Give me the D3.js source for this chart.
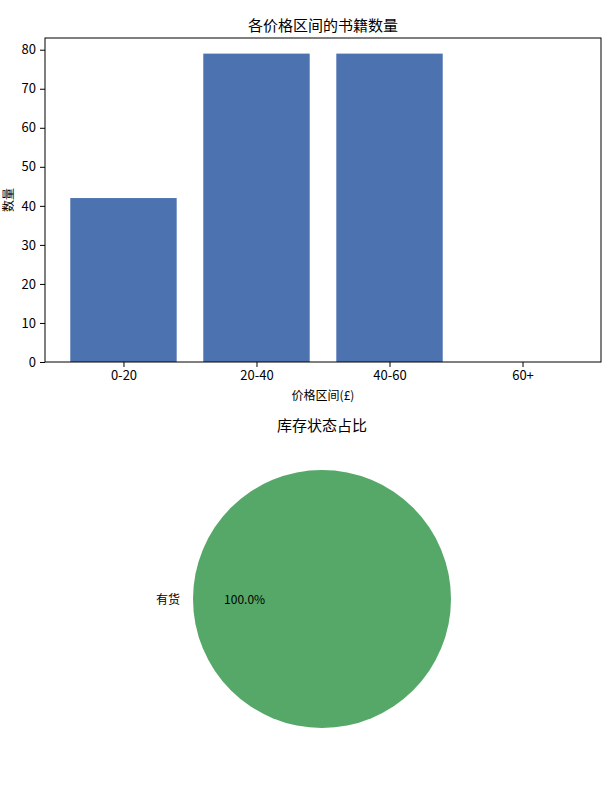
<!DOCTYPE html>
<html>
<head>
    <meta charset="utf-8">
    <script src="https://d3js.org/d3.v7.min.js" charset="utf-8"></script>
    <style>
        body { margin: 0; background: white; }
        text { font-family: "Noto Sans CJK SC", "Noto Sans", sans-serif; fill: black; }
    </style>
</head>
<body>
   <script>
        // bar chart data
        var priceRanges = ["0-20", "20-40", "40-60", "60+"];
        var bookCounts = [42, 79, 79, 0];
        var yTicks = [0, 10, 20, 30, 40, 50, 60, 70, 80];
        // pie data
        var stockLabels = ["有货"];
        var stockValues = [1];

        var svg = d3.select("body")
            .append("svg")
            .attr("width", 611)
            .attr("height", 787)
            .style("background", "white");

        // ---- bar chart ----
        var plotLeft = 45, plotRight = 601, plotTop = 38, plotBottom = 362;
        var x = d3.scaleLinear().domain([-0.59, 3.59]).range([plotLeft, plotRight]);
        var y = d3.scaleLinear().domain([0, 83]).range([plotBottom, plotTop]);

        svg.append("g")
            .selectAll("rect")
            .data(bookCounts)
            .enter()
            .append("rect")
            .attr("x", function (d, i) { return x(i - 0.4); })
            .attr("width", function () { return x(0.4) - x(-0.4); })
            .attr("y", function (d) { return y(d); })
            .attr("height", function (d) { return y(0) - y(d); })
            .style("fill", "#4c72b0");

        var yAxis = svg.append("g")
            .attr("transform", "translate(" + plotLeft + ",0)")
            .call(d3.axisLeft(y).tickValues(yTicks).tickSize(5).tickPadding(4));
        yAxis.select(".domain").remove();
        yAxis.selectAll("text").style("font-size", "13px")
            .style("font-family", "'Noto Sans CJK SC'");

        var xAxis = svg.append("g")
            .attr("transform", "translate(0," + plotBottom + ")")
            .call(d3.axisBottom(x).tickValues(d3.range(priceRanges.length))
                .tickFormat(function (i) { return priceRanges[i]; })
                .tickSize(5).tickPadding(4));
        xAxis.select(".domain").remove();
        xAxis.selectAll("text").style("font-size", "13px")
            .style("font-family", "'Noto Sans CJK SC'");

        svg.append("rect")
            .attr("x", plotLeft).attr("y", plotTop)
            .attr("width", plotRight - plotLeft).attr("height", plotBottom - plotTop)
            .style("fill", "none").style("stroke", "black").style("stroke-width", 1);

        svg.append("text")
            .attr("x", (plotLeft + plotRight) / 2).attr("y", 31)
            .attr("text-anchor", "middle")
            .style("font-size", "15px")
            .text("各价格区间的书籍数量");

        svg.append("text")
            .attr("x", (plotLeft + plotRight) / 2).attr("y", 400)
            .attr("text-anchor", "middle")
            .style("font-size", "12px")
            .text("价格区间(£)");

        svg.append("text")
            .attr("transform", "translate(13," + (plotTop + plotBottom) / 2 + ") rotate(-90)")
            .attr("text-anchor", "middle")
            .style("font-size", "12px")
            .text("数量");

        // ---- pie chart ----
        var cx = 322, cy = 599, radius = 129;
        var pie = d3.pie().sort(null).startAngle(-Math.PI / 2).endAngle(1.5 * Math.PI);
        var arcs = pie(stockValues);
        var arc = d3.arc().innerRadius(0).outerRadius(radius);
        var total = d3.sum(stockValues);

        var g = svg.append("g").attr("transform", "translate(" + cx + "," + cy + ")");
        g.selectAll("path")
            .data(arcs)
            .enter()
            .append("path")
            .attr("d", arc)
            .style("fill", "#55a868");

        // labels at the slice mid-angle (label at 1.1r, pct at 0.6r)
        g.selectAll("text.lbl")
            .data(arcs)
            .enter()
            .append("text")
            .attr("class", "lbl")
            .attr("x", function (d) { var a = (d.startAngle + d.endAngle) / 2 - Math.PI / 2; return Math.cos(a + Math.PI) * radius * 1.1; })
            .attr("y", 5)
            .attr("text-anchor", "end")
            .style("font-size", "12px")
            .text(function (d, i) { return stockLabels[i]; });

        g.selectAll("text.pct")
            .data(arcs)
            .enter()
            .append("text")
            .attr("class", "pct")
            .attr("x", function (d) { var a = (d.startAngle + d.endAngle) / 2 - Math.PI / 2; return Math.cos(a + Math.PI) * radius * 0.6; })
            .attr("y", 5)
            .attr("text-anchor", "middle")
            .style("font-size", "12px")
            .text(function (d) { return (d.value / total * 100).toFixed(1) + "%"; });

        svg.append("text")
            .attr("x", cx).attr("y", 431)
            .attr("text-anchor", "middle")
            .style("font-size", "15px")
            .text("库存状态占比");
    </script>
</body>
</html>
